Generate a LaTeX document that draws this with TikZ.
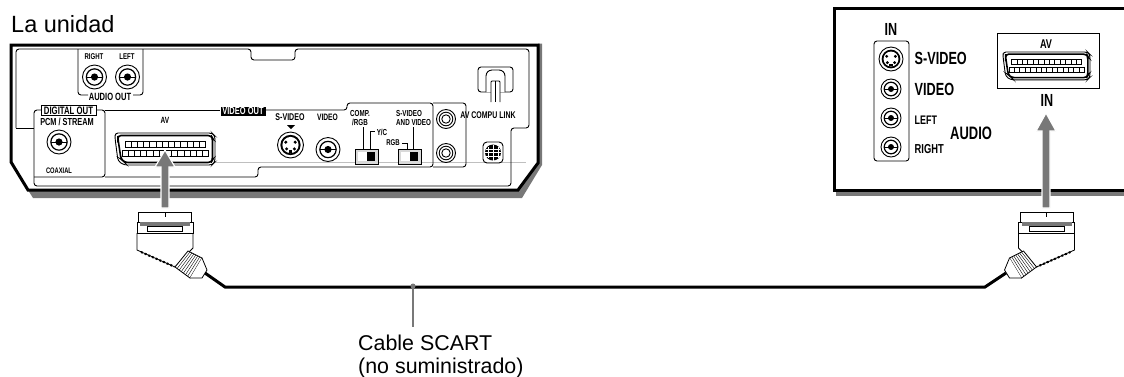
\documentclass[tikz,border=0pt]{standalone}
\usepackage{fontspec}
\usetikzlibrary{calc}
\setmainfont{Liberation Sans}
\newfontfamily\condfont[FakeStretch=.72]{Liberation Sans}
\newcommand{\condsize}[1]{\condfont\bfseries\fontsize{#1}{#1}\selectfont}
\definecolor{arrowgray}{gray}{.47}
\tikzset{
  lbl/.style={inner sep=0,font=\condsize{#1}},
  lbl/.default=8.7,
  plainlbl/.style={inner sep=0,anchor=base west,font=\fontsize{#1}{#1}\selectfont},
  frame/.style={line width=3pt,line join=miter},
  thin line/.style={line width=.9pt,rounded corners=3pt},
  bigarrow/.style={fill=arrowgray,draw=white,line width=1.2pt},
  pics/rca/.style={code={
    \draw[line width=.9pt,fill=white] (0,0) circle (#1);
    \draw[line width=1.2pt] (0,0) circle (.68*#1);
    \draw[line width=.9pt] (-.68*#1,0) -- (.68*#1,0);
    \fill (0,0) circle (.3*#1);
  }},
  pics/ringjack/.style={code={
    \draw[line width=.9pt] (0,0) circle (9.5);
    \draw[line width=.9pt] (0,0) circle (6.8);
    \draw[line width=.9pt] (0,0) circle (4.2);
  }},
  pics/svid/.style={code={
    \draw[line width=.9pt,fill=white] (0,0) circle (#1);
    \fill[black] (0,0) circle (.78*#1);
    \fill[white] (0,0) circle (.62*#1);
    \fill (-.3*#1,.3*#1) circle (.13*#1);
    \fill (.3*#1,.3*#1) circle (.13*#1);
    \fill (-.36*#1,-.22*#1) circle (.13*#1);
    \fill (.36*#1,-.22*#1) circle (.13*#1);
    \fill (-.15*#1,.42*#1) rectangle (.15*#1,.58*#1);
  }},
  pics/scart/.style={code={
    % outline in units of the wide connector, 100 by 32
    \draw[line width=.9pt,rounded corners=3pt,fill=white] (0,0) -- (97,0) -- (100,3) -- (100,29) -- (97,32) -- (9,32) -- (3,28) -- (0,5) -- cycle;
    \draw[line width=1.6pt,rounded corners=3pt] (3,2.5) -- (96,2.5) -- (97.5,5) -- (97.5,27) -- (96,29.5) -- (10,29.5) -- (6,26) -- (3,6) -- cycle;
    \foreach \i in {0,...,12}{
      \draw[line width=.9pt,fill=white] (10+6.2*\i,8) rectangle ++(6.2,6);
    }
    \foreach \i in {0,...,13}{
      \draw[line width=.9pt,fill=white] (7+6.2*\i,17.5) rectangle ++(6.2,6);
    }
  }},
  pics/plug/.style={code={
    \draw[line width=.8pt,fill=white] (-27,22) -- (-27,12) -- (26,12) -- (26,22);
    \draw[line width=.8pt] (0,12) -- (0,17);
    \draw[line width=.8pt,fill=white] (-28,33) -- (-28,22) -- (28,22) -- (28,33) -- cycle;
    \fill[arrowgray] (-25,22) rectangle (25,26);
    \draw[line width=.8pt,fill=white] (-18,26.5) rectangle (17,31);
    \draw[line width=.8pt] (-28,33) -- (-28,50) -- (10,67) -- (25,51) -- (28,48) -- (28,33);
    \draw[line width=2pt,dotted] (-24,52) -- (9,66.5);
    \draw[line width=.8pt,fill=white] (23,51) -- (37,58) -- (25,78) -- (10,67) -- cycle;
    \foreach \t in {.14,.28,...,.9}{
      \draw[line width=.4pt] ($(23,51)!\t!(37,58)$) -- ($(10,67)!\t!(25,78)$);
    }
    \draw[line width=.8pt,fill=white] (37,58) -- (42,70) -- (37,78) -- (25,78);
  }}
}
\begin{document}
\begin{tikzpicture}[x=1pt,y=-1pt]
\useasboundingbox (0,0) rectangle (1124,376);
% the unit
\node[plainlbl=23.5] (title) at (11,32) {La unidad};
\fill[arrowgray] (28,190) -- (518,190) -- (538,162) -- (538,43.5) -- (542,43.5) -- (542,165) -- (522,198) -- (33,198) -- cycle;
\draw[frame] (11,45) -- (538,45) -- (538,163) -- (518,190) -- (28,190) -- (11,162) -- cycle;
\draw[line width=.5pt,black!25] (213,162) -- (526,162);
\draw[thin line] (16,128) -- (16,49) -- (251,49) -- (251,60) -- (295,60) -- (295,49) -- (529,49) -- (529,128) -- (511,128) -- (511,186) -- (34,186) -- (34,110) -- (41,110);
\draw[line width=.9pt] (16,128) -- (34,128);
\draw[thin line] (96,110) -- (105,110) -- (105,177) -- (34,177);
\draw[thin line] (105,110) -- (220,110);
\draw[thin line] (265,110) -- (347,110) -- (347,103) -- (433,103) -- (433,167) -- (258,167) -- (258,177) -- (105,177);
\draw[thin line] (433,103) -- (466,103) -- (466,167) -- (433,167);
\draw[thin line] (78,49) -- (78,95) -- (88,95);
\draw[thin line] (143,49) -- (143,95) -- (133,95);
\node[lbl=8.4] (audioright) at (94,57) {RIGHT};
\node[lbl=8.4] (audioleft) at (127,57) {LEFT};
\pic at (94.5,77) {rca=12};
\pic at (127.5,77) {rca=12};
\node[lbl=10.5] (audioout) at (110,97) {AUDIO OUT};
\node[lbl=10.8,draw,line width=.9pt,fill=white,minimum width=55pt,minimum height=10pt] (digital) at (68.5,110.5) {DIGITAL OUT};
\node[lbl=10.2] (pcm) at (67,121.5) {PCM / STREAM};
\pic at (59,142) {rca=12};
\node[lbl=8] (coaxial) at (59,171) {COAXIAL};
\node[lbl=9] (avleft) at (165,120) {AV};
\pic at (115,133) {scart};
\node[lbl=10.4,fill=black,text=white,minimum width=45pt,minimum height=9pt] (videoout) at (243,111) {VIDEO OUT};
\node[lbl=9.8] (svideo) at (290,117) {S-VIDEO};
\fill (287,125) -- (295,125) -- (291,129) -- cycle;
\pic at (290.5,145) {svid=13};
\node[lbl=9.3] (video) at (327.5,117) {VIDEO};
\pic at (328,149.5) {rca=12};
\node[lbl] (comp) at (360,113) {COMP.};
\node[lbl] (rgbtop) at (360,122) {/RGB};
\node[lbl] (yc) at (382,132) {Y/C};
\draw[line width=.8pt] (363,127) -- (363,152);
\draw[line width=.8pt] (370,152) -- (370,131) -- (375,131);
\draw[line width=.9pt,fill=black!15] (355,149) rectangle (378,164);
\fill[white] (358,152) rectangle (367,161);
\fill (367,152) rectangle (375,161);
\node[lbl,anchor=west] (svideoand) at (396,113) {S-VIDEO};
\node[lbl,anchor=west] (andvideo) at (396,122) {AND VIDEO};
\node[lbl=8.4] (rgbsw) at (393,143) {RGB};
\draw[line width=.8pt] (413,127) -- (413,152);
\draw[line width=.8pt] (402,143) -- (407,143) -- (407,152);
\draw[line width=.9pt,fill=black!15] (398,149) rectangle (421,164);
\fill[white] (401,152) rectangle (410,161);
\fill (410,152) rectangle (418,161);
\pic at (446,119) {ringjack};
\pic at (446,153) {ringjack};
\node[lbl=9.7] (compu) at (488,115) {AV COMPU LINK};
\draw[line width=.9pt,rounded corners=3pt] (478,67) rectangle (513,92);
\draw[line width=.9pt,fill=white,rounded corners=6pt] (486,92) -- (486,70) -- (505,70) -- (505,92);
\draw[line width=.8pt,fill=white,rounded corners=1pt] (491,102) -- (491,81) -- (500,81) -- (500,102);
\draw[line width=.8pt] (495.5,81) -- (495.5,102);
\draw[line width=.9pt,rounded corners=4pt] (483,142) rectangle (503,163);
\fill (493,152.5) circle (8);
\draw[white,line width=.5pt] (485,152.5) -- (501,152.5) (493,144.5) -- (493,160.5) (488,147) -- (488,158) (498,147) -- (498,158) (486,149) -- (500,149) (486,156) -- (500,156);
% the tv
\fill[arrowgray] (836,190) rectangle (1124,196);
\draw[frame] (1124,8) -- (834,8) -- (834,190) -- (1124,190);
\node[lbl=17.5] (inleft) at (891,29) {IN};
\draw[line width=.9pt,rounded corners=3pt] (874,41) rectangle (909,161);
\pic at (891,59) {svid=12};
\pic at (891,89) {rca=10};
\pic at (891,118) {rca=10};
\pic at (891,147) {rca=10};
\node[lbl=17.6,anchor=west] (tvsvideo) at (914.5,58) {S-VIDEO};
\node[lbl=17.6,anchor=west] (tvvideo) at (914.5,89) {VIDEO};
\node[lbl=12.4,anchor=west] (tvleft) at (914.5,120) {LEFT};
\node[lbl=13,anchor=west] (tvright) at (914.5,149) {RIGHT};
\node[lbl=18,anchor=west] (tvaudio) at (950,133) {AUDIO};
\draw[line width=1pt] (997,33) rectangle (1099,88);
\node[lbl=12.7] (avright) at (1046,44) {AV};
\pic[transform shape,scale=.87] at (1003,52) {scart};
\node[lbl=17.5] (inright) at (1047,100) {IN};
% arrows
\draw[bigarrow] (161,208) -- (161,167) -- (155,167) -- (165,150) -- (175,167) -- (169,167) -- (169,208) -- cycle;
\draw[bigarrow] (1042,208) -- (1042,131) -- (1036,131) -- (1046,113) -- (1056,131) -- (1050,131) -- (1050,208) -- cycle;
% cable
\coordinate (cableleft) at (205,273);
\coordinate (cableright) at (1006,273);
\draw[line width=3pt,line join=miter] (cableleft) -- (225,287) -- (985,287) -- (cableright);
\pic at (165,200) {plug};
\pic[transform shape,xscale=-1] at (1046.5,200) {plug};
\coordinate (cabletop) at (413,286);
\coordinate (cablefoot) at (413,327);
\node[plainlbl=21.4] (cablename) at (358,350) {Cable SCART};
\node[plainlbl=21.4] (cablenote) at (358,373) {(no suministrado)};
\draw[line width=2pt,arrowgray] (cabletop) -- (cablefoot);
\fill[arrowgray] (cabletop) circle (2.5);
\end{tikzpicture}
\end{document}
